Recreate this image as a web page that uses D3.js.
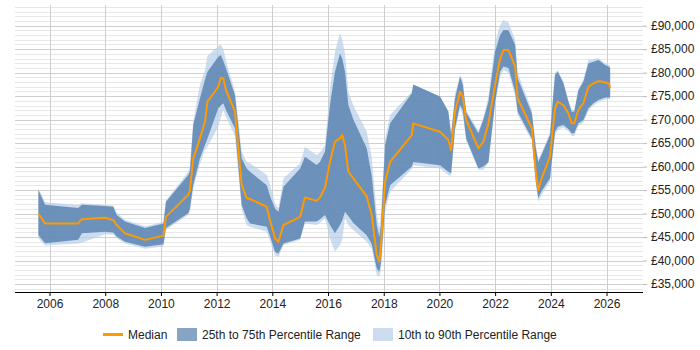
<!DOCTYPE html>
<html>
<head>
<meta charset="utf-8">
<script src="https://cdn.jsdelivr.net/npm/d3@7"></script>
<style>
  body { margin: 0; background: #fff; }
  svg { display: block; font-family: "Liberation Sans", Arial, sans-serif; }
</style>
</head>
<body>
<svg width="700" height="350"></svg>
<script>
// sample dates as decimal years
const years = [2005.60, 2005.84, 2007.03, 2007.16, 2007.99, 2008.29, 2008.41, 2008.71, 2009.43, 2010.09,
  2010.18, 2010.98, 2011.04, 2011.16, 2011.40, 2011.58, 2011.67, 2012.06, 2012.15, 2012.24,
  2012.34, 2012.66, 2012.90, 2013.08, 2013.20, 2013.80, 2013.90, 2014.10, 2014.22, 2014.40,
  2015.00, 2015.17, 2015.59, 2015.71, 2015.89, 2016.07, 2016.25, 2016.43, 2016.51, 2016.61,
  2016.73, 2016.91, 2017.39, 2017.57, 2017.75, 2017.84, 2017.90, 2018.05, 2018.23, 2019.01,
  2019.06, 2020.02, 2020.32, 2020.42, 2020.56, 2020.74, 2020.84, 2020.96, 2021.40, 2021.58,
  2021.76, 2022.00, 2022.18, 2022.30, 2022.48, 2022.72, 2022.81, 2023.32, 2023.46, 2023.55,
  2023.67, 2023.97, 2024.15, 2024.25, 2024.45, 2024.63, 2024.75, 2024.84, 2024.99, 2025.17,
  2025.35, 2025.53, 2025.71, 2025.95, 2026.09, 2026.13]

const p10 = [44700, 43200, 43600, 43800, 45600, 45500, 44700, 43600, 42500, 43000,
  46500, 49700, 50400, 55400, 60500, 63500, 64200, 68500, 70500, 72000,
  70500, 66500, 50800, 47500, 47200, 46150, 44500, 41000, 40800, 43300,
  44400, 47900, 47550, 48000, 49000, 44700, 41900, 43300, 44500, 49000,
  47500, 46500, 44000, 42500, 36900, 36500, 38000, 50500, 54650, 59500,
  60300, 59600, 58200, 58000, 67500, 72400, 71000, 65500, 59300, 59300,
  60800, 73100, 79150, 80500, 80000, 75000, 71000, 65500, 56300, 52500,
  54000, 56800, 66700, 67800, 68300, 67500, 66500, 66500, 68700, 69400,
  71900, 73000, 73700, 74300, 74400, 74400]

const p25 = [45400, 43700, 44400, 45800, 46150, 45950, 45100, 44000, 42950, 43450,
  46900, 50050, 51000, 56100, 61700, 64600, 66000, 72400, 73000, 73500,
  72000, 68150, 51800, 49000, 47900, 47200, 45500, 41800, 41500, 43650,
  44700, 48300, 48300, 48800, 49700, 47560, 45800, 47560, 48500, 50400,
  49500, 48000, 45400, 43500, 38300, 37600, 39500, 51800, 56000, 60000,
  61000, 60300, 58900, 58600, 68150, 73100, 72000, 66000, 59600, 60000,
  61000, 73800, 80200, 81300, 81000, 75950, 71700, 66000, 56800, 53300,
  54800, 57500, 67400, 68500, 68850, 68000, 67100, 67100, 69200, 69900,
  72400, 73500, 74200, 74700, 74700, 74700]

const median = [50000, 47900, 47900, 48800, 49100, 48600, 47550, 45800, 44400, 45300,
  49300, 54000, 55000, 61700, 66000, 69500, 73800, 77000, 78900, 78800,
  76200, 71700, 56100, 53300, 53100, 51450, 49000, 44700, 44000, 47560,
  49300, 53400, 52700, 53400, 55500, 61000, 65300, 66000, 66700, 64600,
  58900, 57500, 53650, 49700, 41200, 39750, 43300, 56800, 61000, 66700,
  69200, 67400, 65650, 63500, 71700, 75950, 74900, 69900, 63900, 65300,
  69200, 77400, 83000, 84800, 84800, 81300, 74500, 68150, 58900, 55000,
  57500, 62100, 72400, 73800, 73100, 71300, 69200, 69200, 72050, 73500,
  77000, 77700, 78200, 77900, 77700, 76650]

const p75 = [55000, 51900, 51200, 51900, 51600, 51450, 49700, 48300, 46900, 47900,
  52500, 58200, 59000, 68850, 74500, 78500, 80200, 83400, 83750, 82500,
  80900, 75200, 61750, 59600, 58900, 56000, 54000, 51000, 50400, 55700,
  59600, 62100, 60350, 61000, 63200, 73100, 80200, 84100, 83000, 80200,
  73100, 70000, 63900, 58000, 47550, 45000, 47500, 64600, 69200, 75600,
  77500, 74900, 71700, 66700, 74500, 79150, 77500, 71500, 67100, 70000,
  73800, 84500, 88000, 89100, 89000, 85900, 78800, 71300, 64000, 61000,
  62500, 66700, 79500, 80200, 77800, 73800, 71700, 71700, 76200, 78100,
  82000, 82300, 82700, 81600, 81200, 81000]

const p90 = [55400, 52400, 51800, 52200, 51800, 51700, 50200, 48700, 47300, 48200,
  52800, 58900, 59800, 69700, 77400, 80500, 83600, 85600, 86000, 85000,
  82500, 76000, 63200, 61000, 60700, 58200, 56500, 52000, 51200, 57500,
  60700, 64200, 62450, 63000, 64500, 76650, 84450, 88500, 87000, 84000,
  76000, 73000, 67400, 62000, 50000, 47000, 49500, 66000, 71000, 76000,
  77500, 74900, 72000, 67500, 75500, 79500, 78500, 72000, 67500, 70500,
  75000, 86600, 90150, 91200, 90700, 87000, 80000, 72000, 64500, 61500,
  63000, 67300, 80000, 80500, 78200, 74200, 72200, 72000, 76600, 78500,
  82700, 82900, 83050, 82000, 81600, 81500]

const xTicks = [2006, 2008, 2010, 2012, 2014, 2016, 2018, 2020, 2022, 2024, 2026]
const yTicks = [35000, 40000, 45000, 50000, 55000, 60000, 65000, 70000, 75000, 80000, 85000, 90000]
const legendItems = ["Median", "25th to 75th Percentile Range", "10th to 90th Percentile Range"]

const svg = d3.select("svg")
  , pLeft = 15, pRight = 643, pTop = 5, pBottom = 292;

const x = d3.scaleLinear().domain([2004.76, 2027.31]).range([pLeft, pRight]);
const y = d3.scaleLinear().domain([33300, 94400]).range([pBottom, pTop]);

const rows = years.map((t, i) => ({t, p10: p10[i], p25: p25[i], med: median[i], p75: p75[i], p90: p90[i]}));

//grid lines
const grid = svg.append("g");
grid.selectAll(".minor").data(d3.range(34000, 94001, 1000).filter(v => v % 5000)).enter().append("line")
  .attr("x1", pLeft).attr("x2", pRight)
  .attr("y1", d => Math.round(y(d)) + 0.5).attr("y2", d => Math.round(y(d)) + 0.5)
  .attr("stroke", "#e8e8e8");
grid.selectAll(".major").data(yTicks).enter().append("line")
  .attr("x1", pLeft).attr("x2", pRight)
  .attr("y1", d => Math.round(y(d)) + 0.5).attr("y2", d => Math.round(y(d)) + 0.5)
  .attr("stroke", "#cfcfcf");
grid.selectAll(".vert").data(xTicks).enter().append("line")
  .attr("x1", d => Math.round(x(d)) + 0.5).attr("x2", d => Math.round(x(d)) + 0.5)
  .attr("y1", pTop).attr("y2", pBottom)
  .attr("stroke", "#cfcfcf");

//bands
const outer = d3.area().x(d => x(d.t)).y0(d => y(d.p10)).y1(d => y(d.p90));
const inner = d3.area().x(d => x(d.t)).y0(d => y(d.p25)).y1(d => y(d.p75));
const line = d3.line().x(d => x(d.t)).y(d => y(d.med));

svg.append("path").datum(rows).attr("d", outer).attr("fill", "#b7cfe8").attr("fill-opacity", 0.7);
svg.append("path").datum(rows).attr("d", inner).attr("fill", "#5e86b3").attr("fill-opacity", 0.88);
svg.append("path").datum(rows).attr("d", line).attr("fill", "none")
  .attr("stroke", "#ff9900").attr("stroke-width", 2).attr("stroke-linejoin", "round");

//axes
const xAxis = svg.append("g").attr("transform", `translate(0,${pBottom})`)
  .call(d3.axisBottom(x).tickValues(xTicks).tickFormat(d3.format("d")).tickSize(4).tickPadding(3));
xAxis.select(".domain").attr("d", `M${pLeft},0.5H${pRight}`).attr("stroke", "#000");
xAxis.selectAll("line").attr("stroke", "#000");
xAxis.selectAll("text").attr("font-size", 12).attr("fill", "#222").attr("font-family", null);

const yAxis = svg.append("g").attr("transform", `translate(${pRight},0)`)
  .call(d3.axisRight(y).tickValues(yTicks).tickFormat(d => "£" + d3.format(",")(d)).tickSize(4).tickPadding(4));
yAxis.select(".domain").remove();
yAxis.selectAll("line").attr("stroke", "#bbb");
yAxis.selectAll("text").attr("font-size", 12).attr("fill", "#222").attr("font-family", null);

//legend
const lg = svg.append("g").attr("font-size", 12).attr("fill", "#222");
const lx = [103, 177, 373];
lg.append("line").attr("x1", lx[0]).attr("x2", lx[0] + 20).attr("y1", 334.5).attr("y2", 334.5)
  .attr("stroke", "#ff9900").attr("stroke-width", 3);
lg.append("rect").attr("x", lx[1]).attr("y", 328).attr("width", 20).attr("height", 13).attr("fill", "#87a4c5");
lg.append("rect").attr("x", lx[2]).attr("y", 328).attr("width", 20).attr("height", 13).attr("fill", "#cddcee");
lg.selectAll("text").data(legendItems).enter().append("text")
  .attr("x", (d, i) => lx[i] + 25).attr("y", 338.5).text(d => d);
</script>
</body>
</html>
